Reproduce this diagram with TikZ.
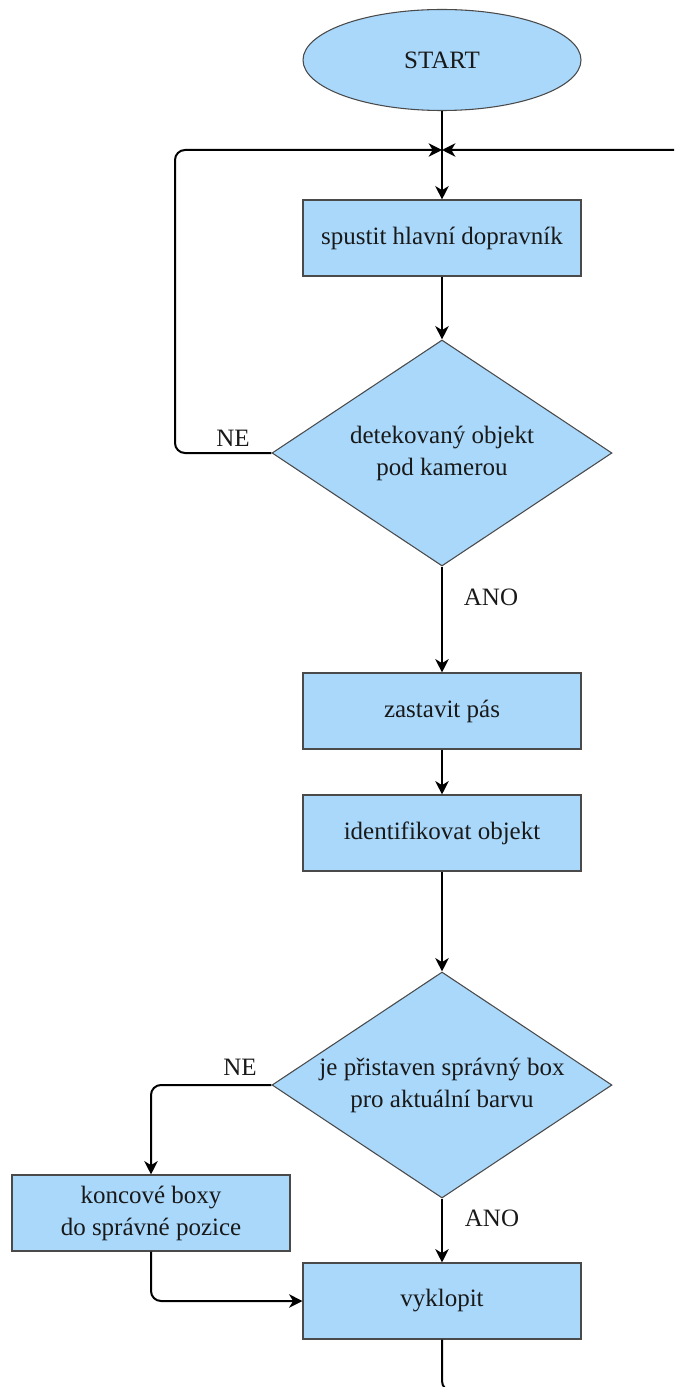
\documentclass[tikz,border=0pt]{standalone}
\usepackage{fontspec}
\setmainfont{Liberation Serif}
\usetikzlibrary{shapes.geometric,arrows.meta}
\definecolor{boxfill}{HTML}{A9D8FB}
\definecolor{boxline}{HTML}{4A4A4A}
\begin{document}
\begin{tikzpicture}[x=0.75pt,y=-0.75pt,
  every node/.style={font=\fontsize{18.75pt}{24pt}\selectfont, text=black!90},
  shapebase/.style={draw=boxline, line width=0.8pt, fill=boxfill, inner sep=0pt, align=center},
  terminal/.style={shapebase, ellipse, minimum width=208.5pt, minimum height=75.75pt},
  stepbox/.style={shapebase, rectangle, minimum width=208.5pt, minimum height=57pt},
  decision/.style={shapebase, diamond, aspect=1.5, minimum width=255pt, minimum height=169.5pt},
  flow/.style={line width=1.5pt, rounded corners=10*0.75pt,
    -{Stealth[length=10pt, width=10pt, inset=3pt]}},
  plainflow/.style={line width=1.5pt, rounded corners=10*0.75pt},
  tag/.style={inner sep=0pt}]

% canvas
\clip (0,0) rectangle (674,1387);
\useasboundingbox (0,0) rectangle (674,1387);

% shapes
\node[terminal] (start) at (442,60) {START};
\node[stepbox] (run) at (442,238) {spustit hlavní dopravník};
\node[decision] (detect) at (442,453) {detekovaný objekt\\pod kamerou};
\node[stepbox] (stop) at (442,711) {zastavit pás};
\node[stepbox] (ident) at (442,833) {identifikovat objekt};
\node[decision] (boxok) at (442,1085) {je přistaven správný box\\pro aktuální barvu};
\node[stepbox] (move) at (151,1213) {koncové boxy\\do správné pozice};
\node[stepbox] (tip) at (442,1301) {vyklopit};

% branch labels
\node[tag] (ne1) at (233,438) {NE};
\node[tag] (ano1) at (491,597) {ANO};
\node[tag] (ne2) at (240,1067) {NE};
\node[tag] (ano2) at (492,1218) {ANO};

% junction above the first step and loop corners
\coordinate (join) at (442,150);
\coordinate (loopL) at (175,150);
\coordinate (loopR) at (692,150);
\coordinate (loopB) at (692,1391);

% main line
\draw[flow] (start) -- (run);
\draw[flow] (run) -- (detect);
\draw[flow] (detect) -- (stop);
\draw[flow] (stop) -- (ident);
\draw[flow] (ident) -- (boxok);
\draw[flow] (boxok) -- (tip);

% return loop when nothing is detected
\draw[flow] (detect.west) -| (loopL) -- (join);

% return loop after tipping
\draw[flow] (tip.south) |- (loopB) -- (loopR) -- (join);

% box repositioning branch
\draw[flow] (boxok.west) -| (move.north);
\draw[flow] (move.south) |- (tip.west);
\end{tikzpicture}
\end{document}
